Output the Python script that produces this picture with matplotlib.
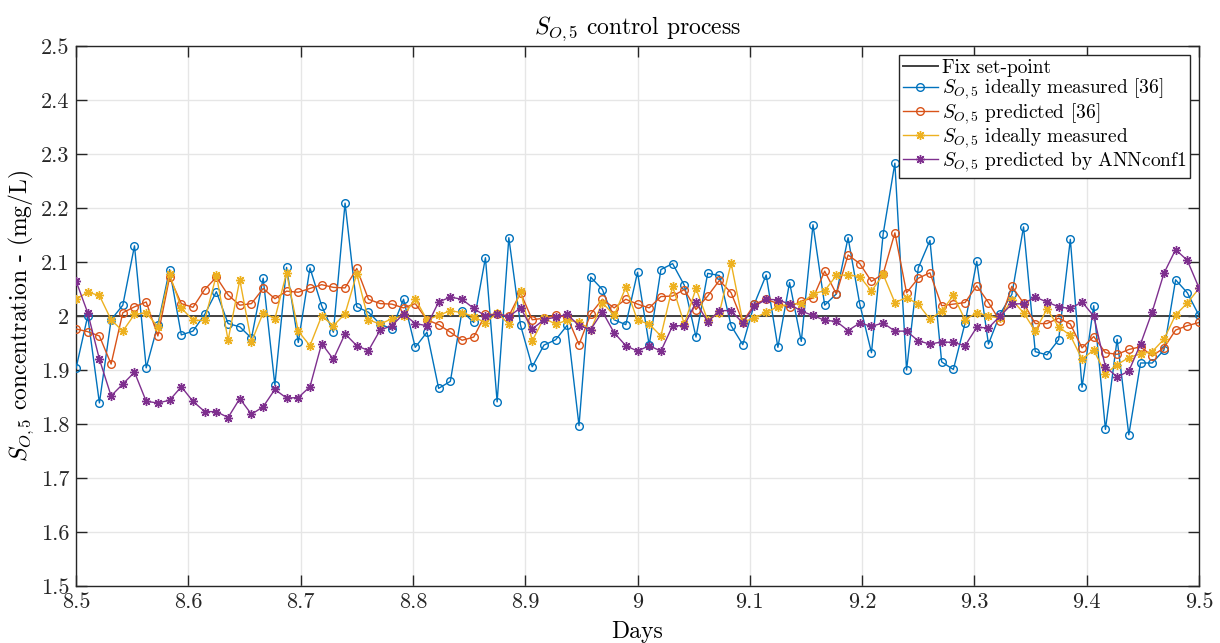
import numpy as np
import matplotlib
matplotlib.use("Agg")
import matplotlib.pyplot as plt
from matplotlib.ticker import FuncFormatter, MultipleLocator

plt.rcParams['font.family'] = 'serif'
plt.rcParams['font.serif'] = ['cmr10', 'DejaVu Serif']
plt.rcParams['mathtext.fontset'] = 'cm'
plt.rcParams['axes.unicode_minus'] = False
plt.rcParams['axes.formatter.use_mathtext'] = True

# 15-min samples from day 8.5 to day 9.5
days = np.linspace(8.5, 9.5, 97)
setpoint = 2.0

# S_O,5 ideally measured [36]
meas_ref = [1.903, 2.000, 1.839, 1.993, 2.020, 2.130, 1.904, 1.984, 2.086, 1.965, 1.972, 2.003, 2.045, 1.986, 1.980, 1.959,
            2.070, 1.872, 2.090, 1.951, 2.089, 2.019, 1.970, 2.209, 2.017, 2.007, 1.985, 1.976, 2.031, 1.942, 1.970, 1.866, 1.879,
            2.009, 1.988, 2.108, 1.841, 2.145, 1.983, 1.906, 1.946, 1.956, 1.983, 1.797, 2.072, 2.049, 1.993, 1.984, 2.081,
            1.946, 2.086, 2.097, 2.057, 1.961, 2.079, 2.075, 1.982, 1.947, 2.023, 2.076, 1.942, 2.062, 1.953, 2.169, 2.020,
            2.041, 2.145, 2.022, 1.932, 2.152, 2.283, 1.900, 2.089, 2.140, 1.915, 1.901, 1.987, 2.101, 1.948, 2.004, 2.040,
            2.165, 1.934, 1.928, 1.956, 2.142, 1.868, 2.019, 1.790, 1.957, 1.780, 1.913, 1.913, 1.937, 2.067, 2.043, 2.001]

# S_O,5 predicted [36]
pred_ref = [1.976, 1.971, 1.963, 1.911, 2.006, 2.017, 2.026, 1.963, 2.072, 2.023, 2.016, 2.049, 2.072, 2.039, 2.020, 2.023,
            2.051, 2.032, 2.046, 2.044, 2.051, 2.058, 2.053, 2.052, 2.088, 2.031, 2.023, 2.022, 2.015, 2.023, 1.993, 1.984, 1.970,
            1.955, 1.961, 2.003, 2.003, 2.000, 2.043, 1.993, 1.996, 2.001, 1.998, 1.947, 2.004, 2.031, 2.015, 2.031, 2.022,
            2.015, 2.036, 2.037, 2.049, 2.012, 2.037, 2.066, 2.043, 1.989, 2.022, 2.031, 2.023, 2.016, 2.028, 2.033, 2.083,
            2.041, 2.113, 2.097, 2.064, 2.078, 2.154, 2.043, 2.070, 2.080, 2.019, 2.022, 2.025, 2.056, 2.025, 1.990, 2.055,
            2.024, 1.986, 1.986, 1.996, 1.985, 1.941, 1.962, 1.932, 1.929, 1.938, 1.943, 1.926, 1.941, 1.974, 1.982, 1.988]

# S_O,5 ideally measured
meas_ann = [2.031, 2.044, 2.038, 1.993, 1.972, 2.003, 2.006, 1.980, 2.077, 2.015, 1.992, 1.992, 2.076, 1.955, 2.067, 1.952,
            2.006, 1.995, 2.080, 1.972, 1.945, 2.000, 1.982, 2.004, 2.078, 1.993, 1.985, 1.995, 2.000, 2.032, 1.993, 2.001, 2.010,
            2.006, 1.999, 1.987, 2.006, 1.985, 2.047, 1.954, 1.996, 1.985, 1.992, 1.989, 1.974, 2.025, 2.001, 2.053, 1.992,
            1.985, 1.963, 2.055, 1.985, 2.051, 1.992, 2.006, 2.098, 1.989, 1.996, 2.007, 2.017, 2.022, 2.023, 2.041, 2.047,
            2.075, 2.076, 2.073, 2.046, 2.077, 2.025, 2.034, 2.022, 1.994, 2.009, 2.038, 1.993, 2.006, 2.000, 1.996, 2.030,
            2.006, 1.972, 2.013, 1.980, 1.964, 1.920, 1.937, 1.893, 1.910, 1.923, 1.930, 1.934, 1.957, 2.002, 2.024, 2.051]

# S_O,5 predicted by ANNconf1
pred_ann = [2.065, 2.006, 1.920, 1.852, 1.874, 1.896, 1.842, 1.839, 1.844, 1.869, 1.842, 1.823, 1.823, 1.812, 1.847, 1.818,
            1.832, 1.864, 1.848, 1.849, 1.869, 1.949, 1.920, 1.967, 1.945, 1.936, 1.974, 1.982, 2.004, 1.986, 1.982, 2.026, 2.035,
            2.031, 2.014, 2.000, 2.004, 1.999, 2.015, 1.976, 1.993, 1.998, 2.003, 1.982, 1.975, 2.008, 1.969, 1.945, 1.935,
            1.945, 1.935, 1.982, 1.982, 2.026, 1.989, 2.010, 2.010, 1.987, 2.018, 2.031, 2.030, 2.022, 2.009, 2.001, 1.992,
            1.990, 1.973, 1.987, 1.981, 1.987, 1.972, 1.972, 1.954, 1.948, 1.952, 1.951, 1.945, 1.979, 1.978, 2.000, 2.022,
            2.023, 2.035, 2.026, 2.017, 2.014, 2.026, 2.000, 1.906, 1.887, 1.898, 1.948, 2.008, 2.079, 2.123, 2.103, 2.052]

# MATLAB style asterisk: 8 spokes
star = (8, 2, 0)

fig = plt.figure(figsize=(12.2, 6.43), dpi=100)
ax = fig.add_axes([0.0623, 0.0886, 0.9205, 0.8399])

ax.axhline(setpoint, color='#404040', lw=1.4, label='Fix set-point', zorder=2)
ax.plot(days, meas_ref, color='#0072BD', lw=1.0, marker='o', ms=5.5, mfc='none', mew=1.0,
        label=r'$S_{O,5}$ ideally measured [36]', zorder=3)
ax.plot(days, pred_ref, color='#D95319', lw=1.0, marker='o', ms=5.5, mfc='none', mew=1.0,
        label=r'$S_{O,5}$ predicted [36]', zorder=3)
ax.plot(days, meas_ann, color='#EDB120', lw=1.0, marker=star, ms=6.5, mew=1.0,
        label=r'$S_{O,5}$ ideally measured', zorder=3)
ax.plot(days, pred_ann, color='#7E2F8E', lw=1.0, marker=star, ms=6.5, mew=1.0,
        label=r'$S_{O,5}$ predicted by ANNconf1', zorder=3)

ax.set_xlim(8.5, 9.5)
ax.set_ylim(1.5, 2.5)
ax.xaxis.set_major_locator(MultipleLocator(0.1))
ax.yaxis.set_major_locator(MultipleLocator(0.1))
fmt = FuncFormatter(lambda v, p: '%g' % round(v, 3))
ax.xaxis.set_major_formatter(fmt)
ax.yaxis.set_major_formatter(fmt)

ax.grid(True, color='#e6e6e6', lw=1.0, zorder=0)
ax.set_axisbelow(True)
ax.tick_params(direction='in', length=8, width=1.0, colors='#262626', labelsize=16,
               top=True, right=True, pad=5)
for s in ax.spines.values():
    s.set_color('#262626')
    s.set_linewidth(1.0)

ax.set_title(r'$S_{O,5}$ control process', fontsize=17, pad=9)
ax.set_xlabel('Days', fontsize=17, labelpad=6)
ax.set_ylabel(r'$S_{O,5}$ concentration - (mg/L)', fontsize=17, labelpad=3)

leg = ax.legend(loc='upper right', fontsize=14, fancybox=False, framealpha=1,
                edgecolor='#262626', borderaxespad=0.45, handlelength=1.8,
                handletextpad=0.2, labelspacing=0.0, borderpad=0.2, numpoints=1)
leg.get_frame().set_linewidth(1.0)

fig.savefig('out.png', dpi=100)
